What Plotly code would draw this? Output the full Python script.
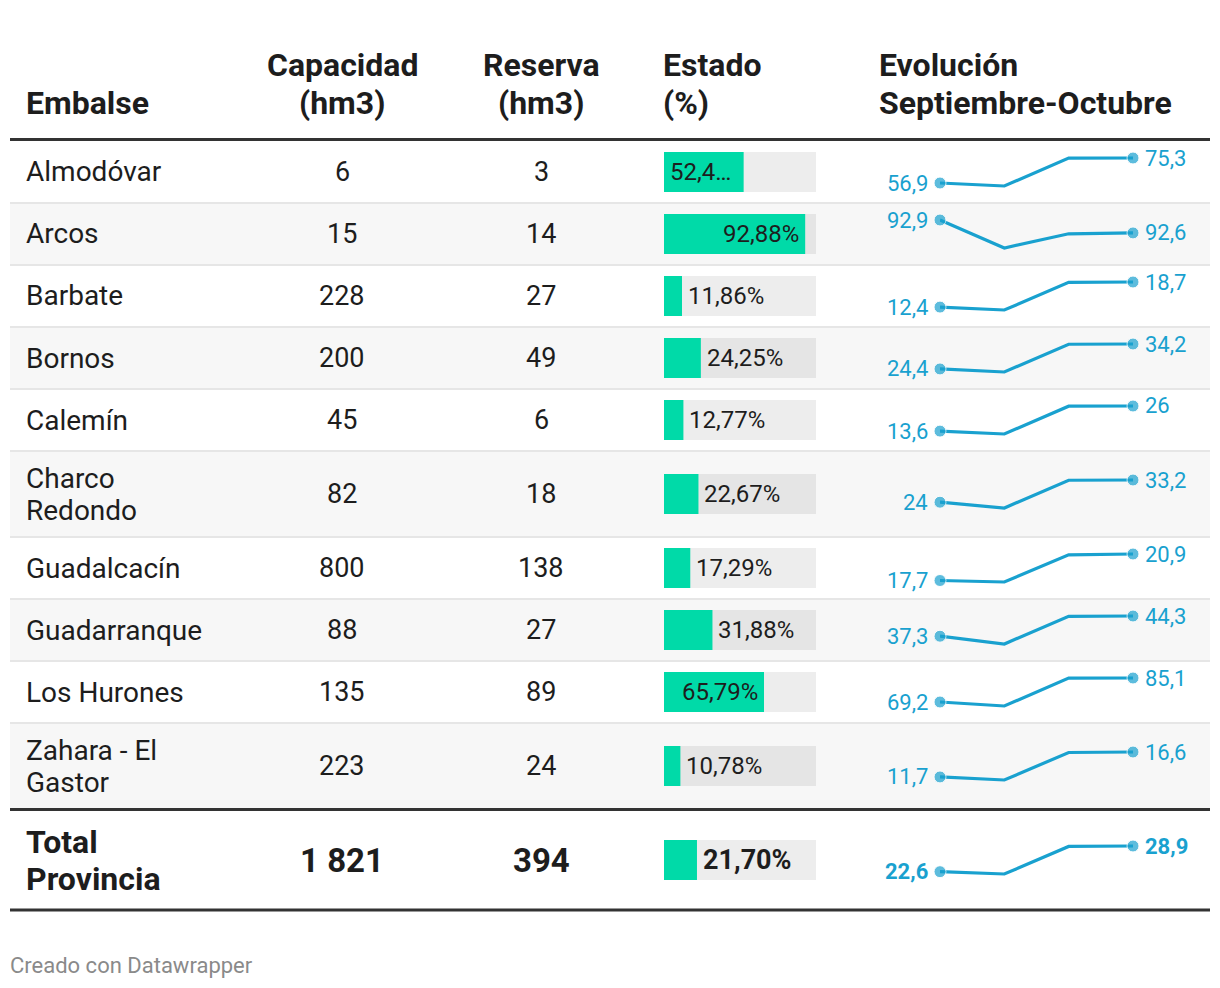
import plotly.graph_objects as go

# ---------------- data ----------------
embalses = ["Almodóvar", "Arcos", "Barbate", "Bornos", "Calemín", "Charco<br>Redondo",
            "Guadalcacín", "Guadarranque", "Los Hurones", "Zahara - El<br>Gastor"]
capacidad = [6, 15, 228, 200, 45, 82, 800, 88, 135, 223]
reserva = [3, 14, 27, 49, 6, 18, 138, 27, 89, 24]
estado = [52.4, 92.88, 11.86, 24.25, 12.77, 22.67, 17.29, 31.88, 65.79, 10.78]
evol_p1 = [56.9, 92.9, 12.4, 24.4, 13.6, 24, 17.7, 37.3, 69.2, 11.7]
evol_p2 = [54.7, 92.25, 11.67, 23.2, 12.17, 21.6, 17.52, 34.6, 66.55, 11.1]
evol_p3 = [75.2, 92.58, 18.6, 34.1, 25.9, 33.1, 20.8, 44.2, 85.0, 16.5]
evol_p4 = [75.3, 92.6, 18.7, 34.2, 26, 33.2, 20.9, 44.3, 85.1, 16.6]

total_nombre = "Total<br>Provincia"
total_capacidad = 1821
total_reserva = 394
total_estado = 21.70
total_evol = [22.6, 22.03, 28.8, 28.9]

headers = ["Embalse", "Capacidad<br>(hm3)", "Reserva<br>(hm3)", "Estado<br>(%)",
           "Evolución<br>Septiembre-Octubre"]
footer = "Creado con Datawrapper"

# ---------------- layout constants ----------------
W, H = 1220, 988
FONT = "Roboto"
TXT = "#1d1d1d"
BLUE = "#19a1cf"
GREEN = "#00daa8"
row_bounds = [141, 203, 265, 327, 389, 451, 537, 599, 661, 723, 809]
total_bounds = (811, 909)
X_LEFT, X_RIGHT = 10, 1210
X_NAME, X_CAP, X_RES = 24, 342, 541
BAR_X0, BAR_X1 = 664, 816
SP_X0, SP_X1 = 940, 1133
EVO_X = 877
SPARK_HALF = 14


def px(x):
    return x / W


def py(y):
    return 1 - y / H


def fmt_num(v):
    return f"{v:,}".replace(",", " ")


def fmt_pct(v):
    return f"{v:.2f}".replace(".", ",") + "%"


def fmt_spark(v):
    return f"{v:g}".replace(".", ",")


fig = go.Figure()
shapes = []
annotations = []


def add_text(text, x, yc, xanchor, font, spacing):
    lines = text.split("<br>")
    n = len(lines)
    for j, ln in enumerate(lines):
        yy = yc + (j - (n - 1) / 2) * spacing
        annotations.append(dict(text=ln, x=px(x), y=py(yy), xanchor=xanchor, yanchor="middle",
                                xref="paper", yref="paper", showarrow=False, font=font))


# row backgrounds and separators
all_rows = [(row_bounds[i], row_bounds[i + 1]) for i in range(len(embalses))]
for i, (t, b) in enumerate(all_rows):
    if i % 2 == 1:
        shapes.append(dict(type="rect", xref="paper", yref="paper", x0=px(X_LEFT), x1=px(X_RIGHT),
                           y0=py(b), y1=py(t), fillcolor="#f7f7f7", line_width=0, layer="below"))
for b in row_bounds[1:-1]:
    shapes.append(dict(type="line", xref="paper", yref="paper", x0=px(X_LEFT), x1=px(X_RIGHT),
                       y0=py(b), y1=py(b), line=dict(color="#e6e6e6", width=2), layer="below"))
for yl in (139.5, 809.5, 910):
    shapes.append(dict(type="line", xref="paper", yref="paper", x0=px(X_LEFT), x1=px(X_RIGHT),
                       y0=py(yl), y1=py(yl), line=dict(color="#333333", width=3)))

# headers
hfont = dict(family=FONT, size=32, color=TXT, weight="bold")
add_text(headers[0], X_NAME, 103, "left", hfont, 38)
add_text(headers[1], X_CAP, 84, "center", hfont, 38)
add_text(headers[2], X_RES, 84, "center", hfont, 38)
add_text(headers[3], BAR_X0 - 3, 84, "left", hfont, 38)
add_text(headers[4], EVO_X, 84, "left", hfont, 38)

# rows including total
rows = []
for i in range(len(embalses)):
    t, b = all_rows[i]
    rows.append(dict(name=embalses[i], cap=capacidad[i], res=reserva[i], est=estado[i],
                     evo=[evol_p1[i], evol_p2[i], evol_p3[i], evol_p4[i]], top=t, bot=b, bold=False))
rows.append(dict(name=total_nombre, cap=total_capacidad, res=total_reserva, est=total_estado,
                 evo=total_evol, top=total_bounds[0], bot=total_bounds[1], bold=True))

centers = [(r["top"] + r["bot"]) / 2 for r in rows]

# bars: background + value (x axis in %, y axis in pixel rows)
fig.add_trace(go.Bar(x=[100] * len(rows), y=centers, orientation="h", width=40,
                     marker=dict(color="rgba(0,0,0,0.07)", line_width=0), xaxis="x", yaxis="y",
                     hoverinfo="skip"))
fig.add_trace(go.Bar(x=[r["est"] for r in rows], y=centers, orientation="h", width=40,
                     marker=dict(color=GREEN, line_width=0), xaxis="x", yaxis="y", hoverinfo="skip"))

layout_axes = dict(
    xaxis=dict(domain=[px(BAR_X0), px(BAR_X1)], range=[0, 100], visible=False, anchor="y", fixedrange=True),
    yaxis=dict(domain=[0, 1], range=[H, 0], visible=False, anchor="x", fixedrange=True),
    xaxis2=dict(domain=[px(SP_X0), px(SP_X1)], range=[0, 3], visible=False, anchor="y2", fixedrange=True),
)

for k, r in enumerate(rows):
    c = centers[k]
    bold = r["bold"]
    if bold:
        nf = dict(family=FONT, size=32, color=TXT, weight="bold")
        numf = dict(family=FONT, size=33, color=TXT, weight="bold")
        lf = dict(family=FONT, size=27, color=TXT, weight="bold")
        add_text(r["name"], X_NAME, c, "left", nf, 37)
    else:
        nf = dict(family=FONT, size=28, color=TXT)
        numf = dict(family=FONT, size=27, color=TXT)
        lf = dict(family=FONT, size=24, color=TXT)
        add_text(r["name"], X_NAME, c, "left", nf, 32)
    add_text(fmt_num(r["cap"]), X_CAP, c, "center", numf, 32)
    add_text(fmt_num(r["res"]), X_RES, c, "center", numf, 32)

    # bar label
    v = r["est"]
    lab = fmt_pct(v)
    if v >= 60:
        annotations.append(dict(text=lab, x=v, y=c, xref="x", yref="y", xanchor="right", yanchor="middle",
                                xshift=-4, showarrow=False, font=lf))
    elif v >= 45:
        annotations.append(dict(text=lab[:4] + "…", x=0, y=c, xref="x", yref="y", xanchor="left",
                                yanchor="middle", xshift=4, showarrow=False, font=lf))
    else:
        annotations.append(dict(text=lab, x=v, y=c, xref="x", yref="y", xanchor="left", yanchor="middle",
                                xshift=4, showarrow=False, font=lf))

    # sparkline on its own y axis
    ax = k + 2
    vals = r["evo"]
    lo, hi = min(vals), max(vals)
    upp = (hi - lo) / (2 * SPARK_HALF)
    half = (r["bot"] - r["top"]) / 2
    pad = (half - SPARK_HALF) * upp
    layout_axes[f"yaxis{ax}"] = dict(domain=[py(r["bot"]), py(r["top"])], range=[lo - pad, hi + pad],
                                     visible=False, anchor="x2", fixedrange=True)
    fig.add_trace(go.Scatter(x=[0, 1, 2, 3], y=vals, mode="lines+markers", xaxis="x2", yaxis=f"y{ax}",
                             line=dict(color=BLUE, width=3.2), marker=dict(size=[12, 0, 0, 12], color=BLUE),
                             cliponaxis=False, hoverinfo="skip"))
    sf = dict(family=FONT, size=22, color=BLUE, weight="bold" if bold else "normal")
    annotations.append(dict(text=fmt_spark(vals[0]), x=0, y=vals[0], xref="x2", yref=f"y{ax}",
                            xanchor="right", yanchor="middle", xshift=-10, showarrow=False, font=sf))
    annotations.append(dict(text=fmt_spark(vals[-1]), x=3, y=vals[-1], xref="x2", yref=f"y{ax}",
                            xanchor="left", yanchor="middle", xshift=10, showarrow=False, font=sf))

annotations.append(dict(text=footer, x=px(8), y=py(965), xref="paper", yref="paper", xanchor="left",
                        yanchor="middle", showarrow=False, font=dict(family=FONT, size=22, color="#8a8a8a")))

fig.update_layout(width=W, height=H, margin=dict(l=0, r=0, t=0, b=0), paper_bgcolor="white",
                  plot_bgcolor="rgba(0,0,0,0)", barmode="overlay", showlegend=False,
                  shapes=shapes, annotations=annotations, **layout_axes)

fig.write_html("out.html", config={"displayModeBar": False},
               post_script="document.body.style.margin='0';document.body.style.overflow='hidden';")
